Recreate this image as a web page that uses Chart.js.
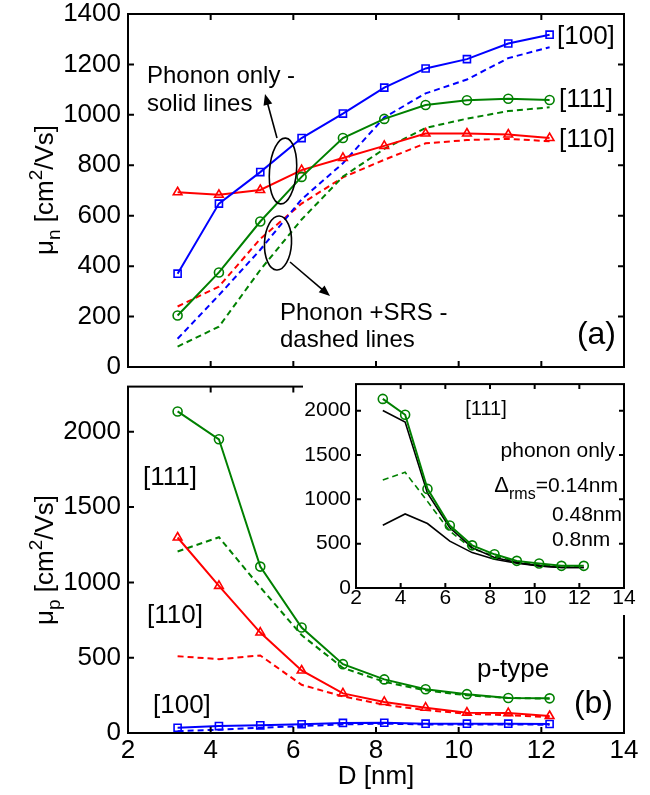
<!DOCTYPE html>
<html><head><meta charset="utf-8">
<script src="https://cdn.jsdelivr.net/npm/chart.js@4.4.1/dist/chart.umd.min.js"></script>
<style>
html,body{margin:0;padding:0;background:#fff;}
#wrap{position:relative;width:650px;height:795px;overflow:hidden;background:#fff;}
canvas{position:absolute;}
</style></head><body>
<div id="wrap">
<canvas id="cA" width="650" height="390" style="left:0;top:0;width:650px;height:390px"></canvas>
<canvas id="cB" width="650" height="415" style="left:0;top:380px;width:650px;height:415px"></canvas>
<canvas id="cC" width="340" height="237" style="left:300px;top:378px;width:340px;height:237px"></canvas>
</div>
<script>
// ---------- data ----------
const diameters = [3.2, 4.2, 5.2, 6.2, 7.2, 8.2, 9.2, 10.2, 11.2, 12.2];
const xTicks = [2, 4, 6, 8, 10, 12, 14];
const yTicksN = [0, 200, 400, 600, 800, 1000, 1200, 1400];
const yTicksP = [0, 500, 1000, 1500, 2000];

// (a) electron mobility
const n100Phonon = [370, 648, 773, 908, 1005, 1108, 1184, 1221, 1283, 1318];
const n111Phonon = [204, 375, 577, 754, 908, 984, 1039, 1058, 1064, 1059];
const n110Phonon = [693, 683, 702, 781, 829, 877, 926, 926, 922, 908];
const n100Srs    = [112, 285, 465, 665, 808, 990, 1085, 1140, 1225, 1268];
const n111Srs    = [81, 160, 385, 585, 755, 865, 948, 985, 1015, 1030];
const n110Srs    = [240, 319, 508, 648, 752, 822, 887, 900, 905, 895];

// (b) hole mobility
const p111Phonon = [2135, 1950, 1105, 700, 457, 356, 290, 258, 232, 230];
const p110Phonon = [1298, 977, 667, 415, 263, 206, 168, 135, 132, 113];
const p100Phonon = [35, 46, 51, 58, 67, 68, 62, 62, 62, 60];
const p111Srs    = [1205, 1300, 968, 650, 432, 340, 283, 250, 233, 228];
const p110Srs    = [510, 490, 515, 320, 243, 188, 152, 128, 118, 106];
const p100Srs    = [12, 22, 35, 46, 57, 62, 57, 57, 57, 55];

// inset [111] p-type
const insetPhonon = [2133, 1954, 1118, 705, 481, 380, 306, 276, 250, 250];
const inset014    = [2002, 1871, 1070, 679, 455, 343, 287, 250, 231, 231];
const inset048    = [1219, 1305, 977, 641, 444, 361, 298, 261, 243, 241];
const inset08     = [708, 835, 727, 529, 399, 324, 280, 250, 231, 231];

// ---------- styling ----------
const FONT = '"Liberation Sans", Arial, Helvetica, sans-serif';
const BLUE = '#0000ff', GREEN = '#008000', RED = '#ff0000', BLACK = '#000000';

function series(values, color, marker, dashed, r, lw) {
  return {
    data: diameters.map((d, i) => ({x: d, y: values[i]})),
    borderColor: color,
    backgroundColor: 'rgba(0,0,0,0)',
    borderWidth: lw || 2,
    borderDash: dashed ? [6, 4] : [],
    pointStyle: marker || 'circle',
    pointRadius: marker ? (r || 4.5) : 0,
    pointHoverRadius: 0,
    pointBorderColor: color,
    pointBackgroundColor: 'rgba(0,0,0,0)',
    pointBorderWidth: 1.6,
    tension: 0,
    fill: false
  };
}

const plain = v => String(v);

function xScale(o) {
  return {
    type: 'linear', min: 2, max: 14,
    afterBuildTicks: s => { s.ticks = xTicks.map(v => ({value: v})); },
    afterFit: s => { s.height = o.height; s.paddingLeft = 0; s.paddingRight = 0; s.paddingTop = 0; s.paddingBottom = 0; },
    grid: {display: false, drawTicks: false},
    border: {display: false},
    ticks: {display: o.labels, color: '#000', padding: o.pad || 0, maxRotation: 0, autoSkip: false, callback: plain,
            font: {family: FONT, size: o.size || 26, lineHeight: 1.0}},
    title: o.title ? {display: true, text: o.title, color: '#000', padding: {top: 0, bottom: 3},
                      font: {family: FONT, size: 26, lineHeight: 1.2}} : {display: false}
  };
}
function yScale(o) {
  return {
    type: 'linear', min: 0, max: o.max,
    afterBuildTicks: s => { s.ticks = o.ticks.map(v => ({value: v})); },
    afterFit: s => { s.width = o.width; s.paddingLeft = 0; s.paddingRight = 0; s.paddingTop = 0; s.paddingBottom = 0; },
    grid: {display: false, drawTicks: false},
    border: {display: false},
    ticks: {color: '#000', padding: o.pad, autoSkip: false, callback: plain,
            font: {family: FONT, size: o.size || 26, lineHeight: 1.0}}
  };
}

// box + inward tick marks drawn from the chart's own scales
const framePlugin = {
  id: 'frame',
  afterDatasetsDraw(chart, args, opts) {
    const {ctx, chartArea: a, scales: {x, y}} = chart;
    ctx.save();
    ctx.strokeStyle = '#000';
    ctx.lineWidth = opts.lw || 2;
    const L = opts.tick || 6;
    ctx.beginPath();
    x.ticks.forEach(t => {
      const px = x.getPixelForValue(t.value);
      ctx.moveTo(px, a.bottom); ctx.lineTo(px, a.bottom - L);
      ctx.moveTo(px, a.top); ctx.lineTo(px, a.top + L);
    });
    y.ticks.forEach(t => {
      const py = y.getPixelForValue(t.value);
      ctx.moveTo(a.left, py); ctx.lineTo(a.left + L, py);
      ctx.moveTo(a.right, py); ctx.lineTo(a.right - L, py);
    });
    ctx.stroke();
    ctx.strokeRect(a.left, a.top, a.right - a.left, a.bottom - a.top);
    ctx.restore();
  }
};

function txt(ctx, s, x, y, size, align, base) {
  ctx.save();
  ctx.font = size + 'px ' + FONT;
  ctx.fillStyle = '#000';
  ctx.textAlign = align || 'left';
  ctx.textBaseline = base || 'alphabetic';
  ctx.fillText(s, x, y);
  ctx.restore();
}
function yTitle(ctx, cx, cy, sub) {
  const big = '26px ' + FONT, small = '19px ' + FONT;
  const parts = [
    {t: '\u03BC', f: big, dy: 0}, {t: sub, f: small, dy: 7},
    {t: ' [cm', f: big, dy: 0}, {t: '2', f: small, dy: -11}, {t: '/Vs]', f: big, dy: 0}
  ];
  ctx.save();
  ctx.translate(cx, cy);
  ctx.rotate(-Math.PI / 2);
  ctx.fillStyle = '#000';
  ctx.textBaseline = 'alphabetic';
  let total = 0;
  parts.forEach(p => { ctx.font = p.f; p.w = ctx.measureText(p.t).width; total += p.w; });
  let px = -total / 2;
  parts.forEach(p => { ctx.font = p.f; ctx.fillText(p.t, px, p.dy); px += p.w; });
  ctx.restore();
}
function arrow(ctx, x1, y1, x2, y2) {
  const ang = Math.atan2(y2 - y1, x2 - x1), h = 11, w = 4.5;
  ctx.save();
  ctx.strokeStyle = '#000'; ctx.fillStyle = '#000'; ctx.lineWidth = 1.6;
  ctx.beginPath();
  ctx.moveTo(x1, y1);
  ctx.lineTo(x2 - h * Math.cos(ang) * 0.8, y2 - h * Math.sin(ang) * 0.8);
  ctx.stroke();
  ctx.beginPath();
  ctx.moveTo(x2, y2);
  ctx.lineTo(x2 - h * Math.cos(ang) + w * Math.sin(ang), y2 - h * Math.sin(ang) - w * Math.cos(ang));
  ctx.lineTo(x2 - h * Math.cos(ang) - w * Math.sin(ang), y2 - h * Math.sin(ang) + w * Math.cos(ang));
  ctx.closePath();
  ctx.fill();
  ctx.restore();
}
function ellipse(ctx, cx, cy, rx, ry, rot) {
  ctx.save();
  ctx.strokeStyle = '#000'; ctx.lineWidth = 1.6;
  ctx.beginPath();
  ctx.ellipse(cx, cy, rx, ry, rot || 0, 0, Math.PI * 2);
  ctx.stroke();
  ctx.restore();
}

const annotA = {
  id: 'annotA',
  afterDraw(chart) {
    const ctx = chart.ctx;
    txt(ctx, '[100]', 557, 37, 26, 'left', 'middle');
    txt(ctx, '[111]', 559, 100, 26, 'left', 'middle');
    txt(ctx, '[110]', 559, 140, 26, 'left', 'middle');
    txt(ctx, '(a)', 616, 335, 32, 'right', 'middle');
    txt(ctx, 'Phonon only -', 147, 83, 24);
    txt(ctx, 'solid lines', 147, 111, 24);
    txt(ctx, 'Phonon +SRS -', 280, 320, 24);
    txt(ctx, 'dashed lines', 280, 347, 24);
    ellipse(ctx, 283, 171, 13.5, 33, 0.08);
    ellipse(ctx, 278, 243, 13.5, 27, 0.05);
    arrow(ctx, 277, 138, 265, 94);
    arrow(ctx, 290, 262, 330, 296);
    yTitle(ctx, 53, 190, 'n');
  }
};
const annotB = {
  id: 'annotB',
  afterDraw(chart) {
    const ctx = chart.ctx;
    txt(ctx, '[111]', 143, 98, 26, 'left', 'middle');
    txt(ctx, '[110]', 147, 236, 26, 'left', 'middle');
    txt(ctx, '[100]', 153, 326, 26, 'left', 'middle');
    txt(ctx, 'p-type', 477, 297, 26);
    txt(ctx, '(b)', 613, 324, 32, 'right', 'middle');
    yTitle(ctx, 53, 180, 'p');
  }
};
const whiteBg = {
  id: 'whiteBg',
  beforeDraw(chart) {
    const ctx = chart.ctx;
    ctx.save();
    ctx.fillStyle = '#fff';
    ctx.fillRect(3, 0, chart.width - 3, chart.height);
    ctx.restore();
  }
};
const annotC = {
  id: 'annotC',
  afterDraw(chart) {
    const ctx = chart.ctx;
    txt(ctx, '[111]', 186, 31, 20, 'center', 'middle');
    txt(ctx, 'phonon only', 315, 79, 21, 'right');
    ctx.save();
    ctx.font = '21px ' + FONT;
    const w1 = ctx.measureText('=0.14nm').width;
    ctx.font = '16px ' + FONT;
    const w2 = ctx.measureText('rms').width;
    ctx.restore();
    txt(ctx, '=0.14nm', 318, 114, 21, 'right');
    txt(ctx, 'rms', 318 - w1, 121, 16, 'right');
    txt(ctx, '\u0394', 318 - w1 - w2, 114, 22, 'right');
    txt(ctx, '0.48nm', 252, 143, 21);
    txt(ctx, '0.8nm', 252, 168, 21);
  }
};

const common = {
  responsive: false, animation: false, devicePixelRatio: 1,
  events: [],
  plugins: {legend: {display: false}, tooltip: {enabled: false}, frame: {lw: 2, tick: 6}}
};

new Chart(document.getElementById('cA'), {
  type: 'line',
  data: {datasets: [
    series(n100Phonon, BLUE, 'rect', false, 5),
    series(n111Phonon, GREEN, 'circle', false, 4.5),
    series(n110Phonon, RED, 'triangle', false, 5),
    series(n100Srs, BLUE, null, true),
    series(n111Srs, GREEN, null, true),
    series(n110Srs, RED, null, true)
  ]},
  options: Object.assign({}, common, {
    layout: {padding: {left: 0, right: 26, top: 14, bottom: 0}},
    scales: {
      x: xScale({height: 23, labels: false}),
      y: yScale({max: 1400, ticks: yTicksN, width: 128, pad: 7})
    }
  }),
  plugins: [framePlugin, annotA]
});

new Chart(document.getElementById('cB'), {
  type: 'line',
  data: {datasets: [
    series(p111Phonon, GREEN, 'circle', false, 4.5),
    series(p110Phonon, RED, 'triangle', false, 5),
    series(p100Phonon, BLUE, 'rect', false, 5),
    series(p111Srs, GREEN, null, true),
    series(p110Srs, RED, null, true),
    series(p100Srs, BLUE, null, true)
  ]},
  options: Object.assign({}, common, {
    layout: {padding: {left: 0, right: 26, top: 6, bottom: 0}},
    scales: {
      x: xScale({height: 62, labels: true, pad: 5, title: 'D [nm]'}),
      y: yScale({max: 2300, ticks: yTicksP, width: 128, pad: 7})
    }
  }),
  plugins: [framePlugin, annotB]
});

new Chart(document.getElementById('cC'), {
  type: 'line',
  data: {datasets: [
    series(insetPhonon, GREEN, 'circle', false, 4.5),
    series(inset014, BLACK, null, false, 0, 1.6),
    series(inset048, GREEN, null, true, 0, 1.6),
    series(inset08, BLACK, null, false, 0, 1.6)
  ]},
  options: Object.assign({}, common, {
    layout: {padding: {left: 0, right: 16, top: 5, bottom: 0}},
    plugins: {legend: {display: false}, tooltip: {enabled: false}, frame: {lw: 2, tick: 5}},
    scales: {
      x: xScale({height: 27, labels: true, pad: 0, size: 21}),
      y: yScale({max: 2300, ticks: yTicksP, width: 56, pad: 5, size: 21})
    }
  }),
  plugins: [whiteBg, framePlugin, annotC]
});
</script>
</body></html>
